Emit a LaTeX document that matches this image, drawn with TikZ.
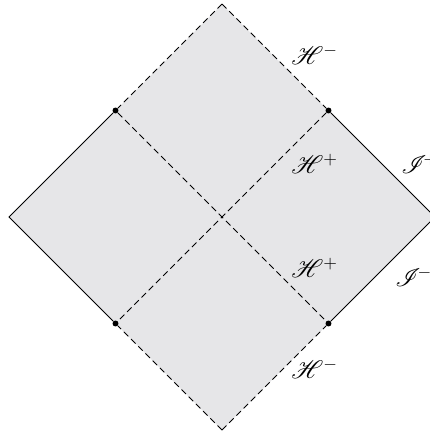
\documentclass[tikz,border=0pt]{standalone}
\usepackage{amsmath,amssymb}
\usepackage{mathrsfs}
\usetikzlibrary{positioning,calc}
\definecolor{regionfill}{RGB}{230,230,232}

\begin{document}
\begin{tikzpicture}[
    x=0.02cm, y=-0.02cm,
    horizon/.style={dash pattern=on 3.6pt off 2.2pt, line width=0.55pt},
    boundary/.style={line width=0.55pt},
    pt/.style={circle, fill=black, inner sep=0pt, minimum size=3.4pt},
    lbl/.style={anchor=west, inner sep=0pt, font=\Large}
]
\useasboundingbox (0,0) rectangle (430,434);

% corners of the diagram
\coordinate (top) at (222,4);
\coordinate (left) at (9,217);
\coordinate (bottom) at (222,430);
\coordinate (right) at (435,217);

\fill[regionfill] (top) -- (right) -- (bottom) -- (left) -- cycle;

% bifurcation points
\node[pt] (ul) at ($(top)!0.5!(left)$) {};
\node[pt] (ur) at ($(top)!0.5!(right)$) {};
\node[pt] (ll) at ($(bottom)!0.5!(left)$) {};
\node[pt] (lr) at ($(bottom)!0.5!(right)$) {};

% horizons
\draw[horizon] (top) -- (ul);
\draw[horizon] (top) -- (ur);
\draw[horizon] (bottom) -- (ll);
\draw[horizon] (bottom) -- (lr);
\draw[horizon] (ul) -- (lr);
\draw[horizon] (ur) -- (ll);

% null infinity
\draw[boundary] (ul) -- (left) -- (ll);
\draw[boundary] (ur) -- (right) -- (lr);

% labels
\node[lbl] (hmtop) at (291,55) {$\mathscr{H}^-$};
\node[lbl] (hptop) at (291,164) {$\mathscr{H}^+$};
\node[lbl] (hpbot) at (291,268) {$\mathscr{H}^+$};
\node[lbl] (hmbot) at (291,369) {$\mathscr{H}^-$};
\node[lbl] (scrip) at (401,164) {$\mathscr{I}^{\!+}$};
\node[lbl] (scrim) at (395,277) {$\mathscr{I}^{\!-}$};

\end{tikzpicture}
\end{document}
